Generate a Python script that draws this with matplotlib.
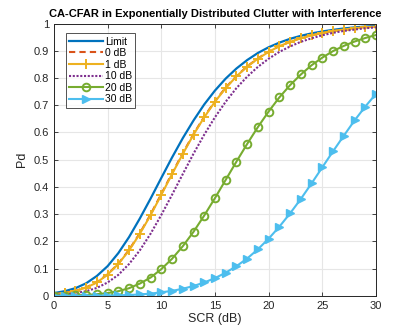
import matplotlib.pyplot as plt

# SCR axis (dB)
scr_db = list(range(0, 31))

# Pd values
pd_limit = [0.010, 0.017, 0.028, 0.046, 0.073, 0.109, 0.157, 0.216, 0.284, 0.357,
            0.433, 0.508, 0.579, 0.644, 0.703, 0.754, 0.798, 0.835, 0.866, 0.892,
            0.913, 0.930, 0.944, 0.955, 0.964, 0.971, 0.977, 0.982, 0.986, 0.989, 0.991]
pd_0db = [0.006, 0.011, 0.018, 0.031, 0.050, 0.079, 0.118, 0.169, 0.230, 0.299,
          0.374, 0.450, 0.524, 0.594, 0.658, 0.715, 0.765, 0.807, 0.843, 0.872,
          0.897, 0.917, 0.933, 0.947, 0.957, 0.966, 0.973, 0.978, 0.983, 0.986, 0.989]
pd_1db = [0.006, 0.010, 0.018, 0.030, 0.049, 0.078, 0.117, 0.167, 0.228, 0.296,
          0.371, 0.447, 0.521, 0.592, 0.656, 0.713, 0.763, 0.806, 0.842, 0.871,
          0.896, 0.917, 0.933, 0.946, 0.957, 0.966, 0.973, 0.978, 0.983, 0.986, 0.989]
pd_10db = [0.003, 0.005, 0.010, 0.017, 0.029, 0.049, 0.077, 0.117, 0.167, 0.228,
           0.297, 0.371, 0.447, 0.522, 0.592, 0.656, 0.713, 0.763, 0.805, 0.841,
           0.871, 0.896, 0.916, 0.933, 0.946, 0.957, 0.966, 0.973, 0.978, 0.983, 0.986]
pd_20db = [0.000, 0.001, 0.002, 0.003, 0.006, 0.010, 0.017, 0.028, 0.045, 0.067,
           0.098, 0.136, 0.182, 0.235, 0.295, 0.359, 0.426, 0.493, 0.558, 0.620,
           0.677, 0.729, 0.774, 0.813, 0.847, 0.875, 0.899, 0.918, 0.934, 0.947, 0.958]
pd_30db = [0.000, 0.000, 0.000, 0.000, 0.001, 0.001, 0.002, 0.003, 0.005, 0.008,
           0.013, 0.018, 0.026, 0.036, 0.049, 0.065, 0.085, 0.109, 0.137, 0.171,
           0.210, 0.254, 0.303, 0.356, 0.413, 0.472, 0.531, 0.588, 0.644, 0.695, 0.742]

plt.rcParams['font.family'] = ['Liberation Sans', 'DejaVu Sans']

fig = plt.figure(figsize=(4.15, 3.32), dpi=100)
ax = fig.add_axes([0.130, 0.109, 0.776, 0.820])

ax.plot(scr_db, pd_limit, color="#0072BD", lw=1.6, label="Limit")
ax.plot(scr_db, pd_0db, color="#D95319", lw=1.5, ls=(0, (3, 2)), label="0 dB")
ax.plot(scr_db, pd_1db, color="#EDB120", lw=1.5, marker="+", ms=7, mew=1.4, label="1 dB")
ax.plot(scr_db, pd_10db, color="#7E2F8E", lw=1.5, ls=(0, (1, 0.8)), label="10 dB")
ax.plot(scr_db, pd_20db, color="#77AC30", lw=1.5, marker="o", ms=5.5, mew=1.4,
        mfc="none", label="20 dB")
ax.plot(scr_db, pd_30db, color="#4DBEEE", lw=1.5, marker=">", ms=6, mew=1.0,
        label="30 dB")

ax.set_xlim(0, 30)
ax.set_ylim(0, 1)
ax.set_xticks(range(0, 31, 5))
ax.set_yticks([i / 10 for i in range(11)])
ax.set_yticklabels(["0", "0.1", "0.2", "0.3", "0.4", "0.5", "0.6", "0.7", "0.8", "0.9", "1"])
ax.grid(True, color="#e6e6e6", lw=0.8)
ax.set_axisbelow(True)
ax.tick_params(direction="in", top=True, right=True, labelsize=8, colors="#262626",
               length=3, width=0.6)
for sp in ax.spines.values():
    sp.set_color("#262626")
    sp.set_linewidth(0.7)

ax.set_xlabel("SCR (dB)", fontsize=9, color="#262626", labelpad=2)
ax.set_ylabel("Pd", fontsize=9, color="#262626", labelpad=4)
ax.set_title("CA-CFAR in Exponentially Distributed Clutter with Interference",
             fontsize=8, fontweight="bold", pad=5)

leg = ax.legend(loc="upper left", fontsize=7.5, frameon=True, fancybox=False,
                edgecolor="#262626", handlelength=3.2, handletextpad=0.2,
                borderpad=0.35, labelspacing=0.15, bbox_to_anchor=(0.02, 0.985))
leg.get_frame().set_linewidth(0.7)

fig.savefig("out.png", dpi=100)
plt.close(fig)
